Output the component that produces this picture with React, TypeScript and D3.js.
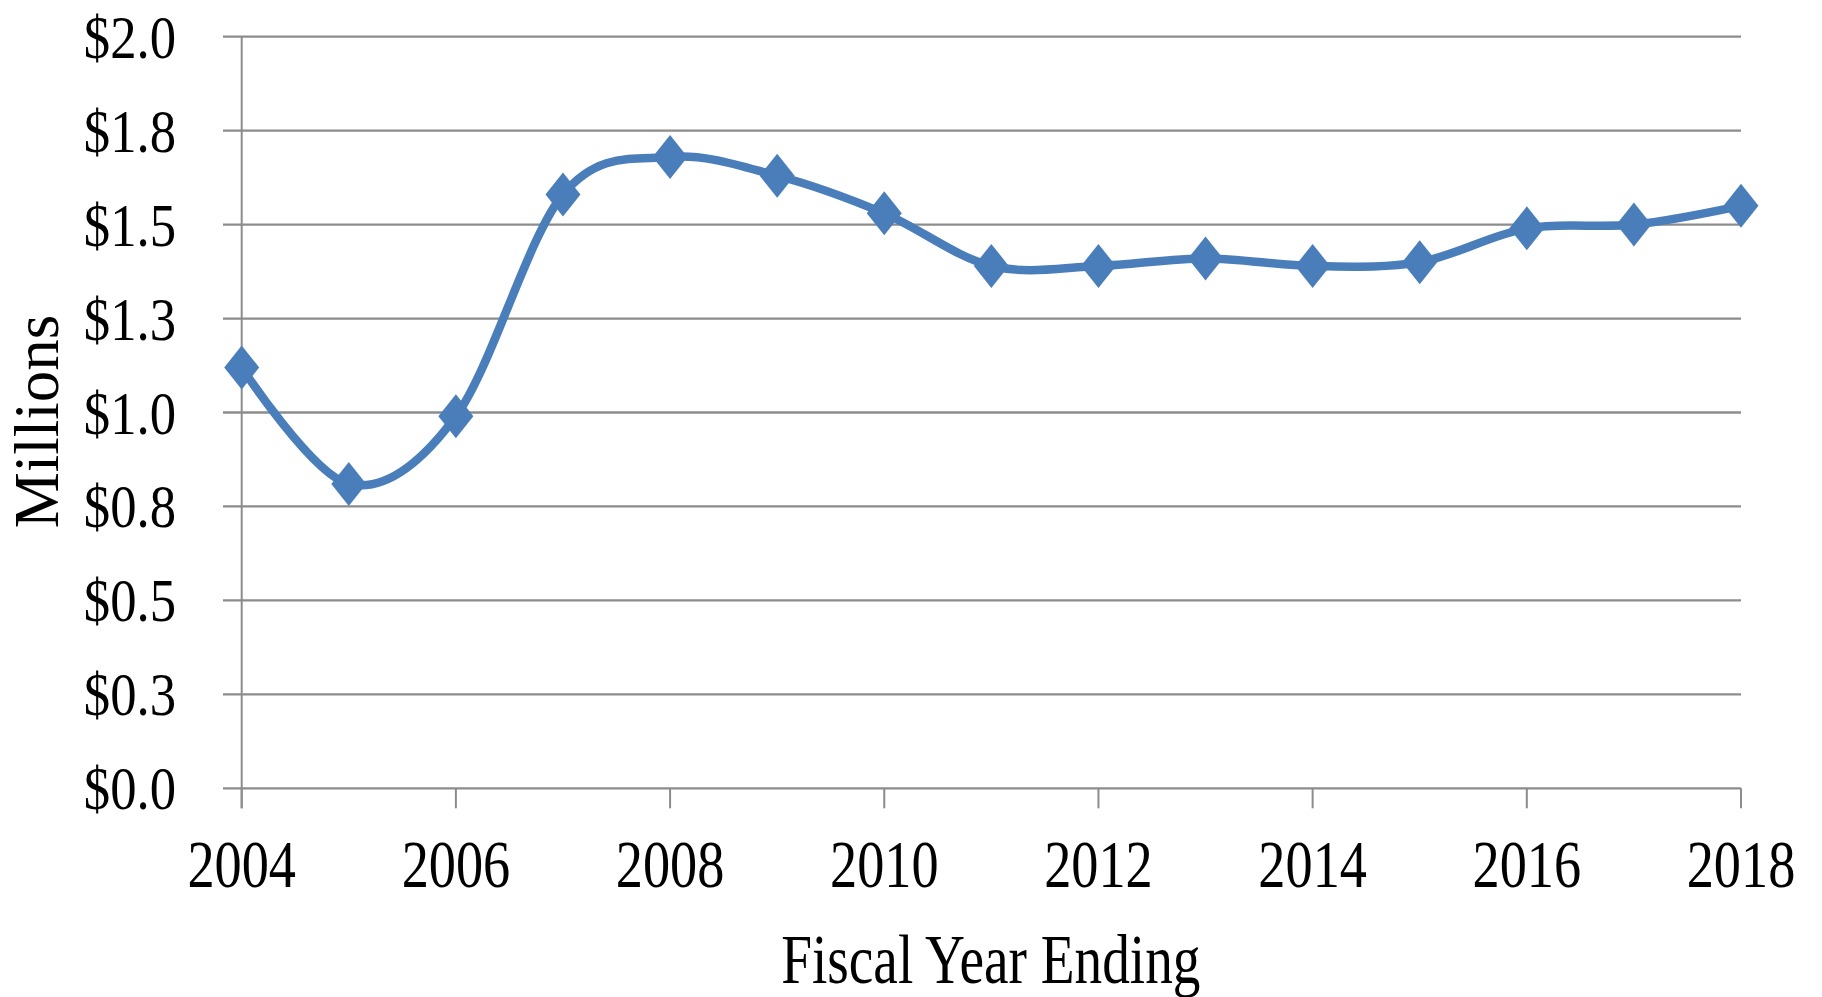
import React from "react";
import * as d3 from "d3";

// Fiscal years and the value for each, in millions of dollars
const years = [2004, 2005, 2006, 2007, 2008, 2009, 2010, 2011, 2012, 2013, 2014, 2015, 2016, 2017, 2018];
const values = [1.12, 0.81, 0.99, 1.58, 1.68, 1.63, 1.53, 1.39, 1.39, 1.41, 1.39, 1.4, 1.49, 1.5, 1.55];

// Axis ticks
const yTickValues = [0, 0.25, 0.5, 0.75, 1.0, 1.25, 1.5, 1.75, 2.0];
const yTickLabels = ["$0.0", "$0.3", "$0.5", "$0.8", "$1.0", "$1.3", "$1.5", "$1.8", "$2.0"];
const xTickYears = [2004, 2006, 2008, 2010, 2012, 2014, 2016, 2018];

const W = 1822;
const H = 997;
const FONT = "'Liberation Serif', 'Times New Roman', Times, serif";
const LINE_COLOR = "#4a7ebb";
const GRID_COLOR = "#8c8c8c";

export default function App() {
  const x = d3.scaleLinear().domain([2004, 2018]).range([241.7, 1741]);
  const y = d3.scaleLinear().domain([0, 2]).range([788.3, 36.7]);

  const points: [number, number][] = years.map((yr, i) => [x(yr), y(values[i])]);
  const linePath = d3.line().curve(d3.curveCardinal.tension(0))(points) || "";

  const gridLeft = 223;
  const gridRight = x(2018);
  const tickLen = 20;

  const dx = 17.5;
  const dy = 22;
  const diamond = (cx: number, cy: number) =>
    `M${cx},${cy - dy}L${cx + dx},${cy}L${cx},${cy + dy}L${cx - dx},${cy}Z`;

  return (
    <svg
      width={W}
      height={H}
      viewBox={`0 0 ${W} ${H}`}
      style={{ position: "absolute", left: 0, top: 0, display: "block", background: "#fff" }}
    >
      {/* horizontal gridlines */}
      <g>
        {yTickValues.map((v) => (
          <line
            key={v}
            x1={gridLeft}
            x2={gridRight}
            y1={y(v)}
            y2={y(v)}
            stroke={GRID_COLOR}
            strokeWidth={2.3}
          />
        ))}
      </g>

      {/* vertical axis line */}
      <line x1={x(2004)} x2={x(2004)} y1={y(2)} y2={y(0) + tickLen} stroke={GRID_COLOR} strokeWidth={2} />

      {/* x ticks */}
      <g>
        {xTickYears.map((yr) => (
          <line
            key={yr}
            x1={x(yr)}
            x2={x(yr)}
            y1={y(0)}
            y2={y(0) + tickLen}
            stroke={GRID_COLOR}
            strokeWidth={2}
          />
        ))}
      </g>

      {/* y tick labels */}
      <g fontFamily={FONT} fontSize={62} fill="#000">
        {yTickValues.map((v, i) => (
          <text
            key={v}
            textAnchor="end"
            transform={`translate(176, ${y(v) + 21}) scale(0.85, 1)`}
          >
            {yTickLabels[i]}
          </text>
        ))}
      </g>

      {/* x tick labels */}
      <g fontFamily={FONT} fontSize={67} fill="#000">
        {xTickYears.map((yr) => (
          <text key={yr} textAnchor="middle" transform={`translate(${x(yr)}, 887.3) scale(0.81, 1)`}>
            {yr}
          </text>
        ))}
      </g>

      {/* axis titles */}
      <text
        fontFamily={FONT}
        fontSize={70}
        fill="#000"
        textAnchor="middle"
        transform="translate(990.8, 982.7) scale(0.79, 1)"
      >
        Fiscal Year Ending
      </text>
      <text
        fontFamily={FONT}
        fontSize={63}
        fill="#000"
        textAnchor="middle"
        transform="translate(58, 421.5) rotate(-90)"
      >
        Millions
      </text>

      {/* series line */}
      <path d={linePath} fill="none" stroke={LINE_COLOR} strokeWidth={8.5} strokeLinejoin="round" strokeLinecap="round" />

      {/* diamond markers */}
      <g fill={LINE_COLOR}>
        {points.map(([cx, cy], i) => (
          <path key={years[i]} d={diamond(cx, cy)} />
        ))}
      </g>
    </svg>
  );
}
